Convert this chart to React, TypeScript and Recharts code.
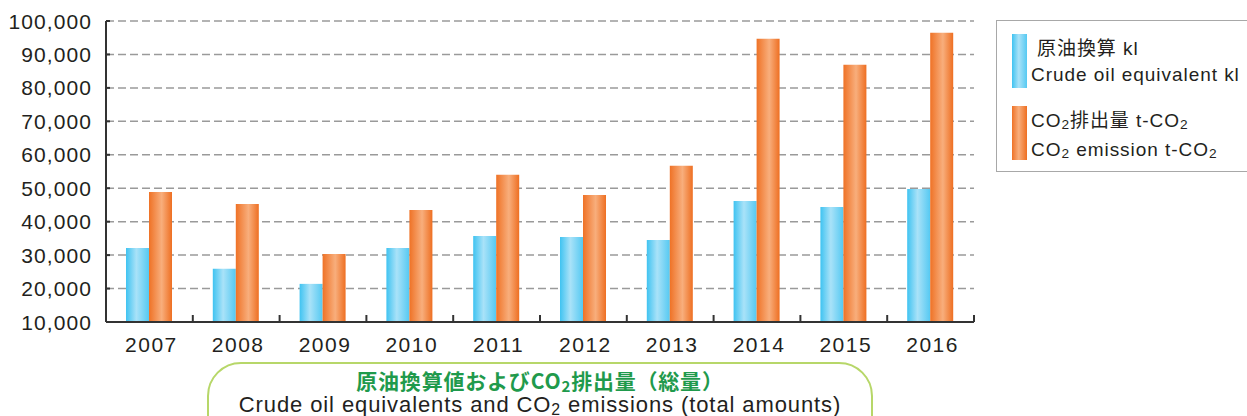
import { BarChart, Bar, XAxis, YAxis, CartesianGrid, Legend } from 'recharts'

const YEARS = ['2007', '2008', '2009', '2010', '2011', '2012', '2013', '2014', '2015', '2016']
const CRUDE_OIL_KL = [32100, 25900, 21400, 32100, 35700, 35400, 34500, 46200, 44400, 49800]
const CO2_T = [48900, 45300, 30300, 43500, 54000, 48000, 56700, 94700, 86900, 96500]
const Y_TICKS = [10000, 20000, 30000, 40000, 50000, 60000, 70000, 80000, 90000, 100000]

const FONT = '"Liberation Sans", Arial, "Noto Sans CJK JP", sans-serif'
const INK = '#231f20'
const AXIS = '#333'
const GRID = '#9a9a9a'
const BLUE = ['#3fc3f1', '#a9e2f8', '#55c9f2']
const ORANGE = ['#ef7226', '#f8ae7c', '#ee6f22']
const TITLE_GREEN = '#1f9a4c'
const PILL_GREEN = '#b7d769'

const W = 1247
const H = 416
const PLOT_LEFT = 106
const PLOT_RIGHT = 974
const PLOT_TOP = 21
const PLOT_BOTTOM = 322
const X_AXIS_H = 40

const data = YEARS.map((year, i) => ({ year, crude: CRUDE_OIL_KL[i], co2: CO2_T[i] }))

const Sub = ({ children }: { children: string }) => (
  <span style={{ fontSize: '0.72em', verticalAlign: '-0.18em' }}>{children}</span>
)

function YTick({ x, y, payload }: any) {
  return (
    <g>
      <line x1={x + 14} x2={x + 18} y1={y} y2={y} stroke={AXIS} strokeWidth={2} />
      <text
        x={x}
        y={y}
        textAnchor="end"
        dominantBaseline="central"
        fill={INK}
        fontSize={21}
        fontFamily={FONT}
        letterSpacing={1.1}
      >
        {payload.value.toLocaleString('en-US')}
      </text>
    </g>
  )
}

function YearTick({ x, y, payload, index }: any) {
  const half = payload?.offset ?? (PLOT_RIGHT - PLOT_LEFT) / YEARS.length / 2
  return (
    <g>
      {index > 0 && (
        <line x1={x - half} x2={x - half} y1={y - 7} y2={y} stroke={AXIS} strokeWidth={2} />
      )}
      {index === YEARS.length - 1 && (
        <line x1={x + half} x2={x + half} y1={y - 7} y2={y} stroke={AXIS} strokeWidth={2} />
      )}
      <text
        x={x + 2}
        y={y + 22}
        textAnchor="middle"
        dominantBaseline="central"
        fill={INK}
        fontSize={21}
        fontFamily={FONT}
        letterSpacing={1.5}
      >
        {payload.value}
      </text>
    </g>
  )
}

const swatch = (c: string[]) => ({
  width: 15,
  height: 54,
  background: `linear-gradient(to right, ${c[0]}, ${c[1]} 45%, ${c[2]})`,
  flex: 'none' as const,
})

function LegendBox() {
  const text = { fontSize: 19, lineHeight: '26px', color: INK, letterSpacing: 0.95, whiteSpace: 'nowrap' as const }
  return (
    <div
      style={{
        boxSizing: 'border-box',
        width: 262,
        height: 152,
        border: '1.5px solid #a8a8a8',
        background: '#fff',
        fontFamily: FONT,
        padding: '13px 0 0 15px',
      }}
    >
      <div style={{ display: 'flex', gap: 4 }}>
        <div style={swatch(BLUE)} />
        <div style={{ ...text, paddingTop: 2 }}>
          <div style={{ paddingLeft: 6 }}>原油換算 kl</div>
          <div>Crude oil equivalent kl</div>
        </div>
      </div>
      <div style={{ display: 'flex', gap: 4, marginTop: 18 }}>
        <div style={swatch(ORANGE)} />
        <div style={{ ...text, lineHeight: '25px', paddingTop: 2 }}>
          <div>
            CO<Sub>2</Sub>排出量 t-CO<Sub>2</Sub>
          </div>
          <div>
            CO<Sub>2</Sub> emission t-CO<Sub>2</Sub>
          </div>
        </div>
      </div>
    </div>
  )
}

export default function App() {
  return (
    <div
      style={{
        position: 'absolute',
        top: 0,
        left: 0,
        width: W,
        height: H,
        overflow: 'hidden',
        background: '#fff',
      }}
    >
      <BarChart
        width={W}
        height={H}
        data={data}
        barGap={0}
        barSize={23}
        margin={{ top: PLOT_TOP, right: W - PLOT_RIGHT, left: 10, bottom: H - PLOT_BOTTOM - X_AXIS_H }}
      >
        <defs>
          <linearGradient id="blueGrad" x1="0" x2="1" y1="0" y2="0">
            <stop offset="0%" stopColor={BLUE[0]} />
            <stop offset="45%" stopColor={BLUE[1]} />
            <stop offset="100%" stopColor={BLUE[2]} />
          </linearGradient>
          <linearGradient id="orangeGrad" x1="0" x2="1" y1="0" y2="0">
            <stop offset="0%" stopColor={ORANGE[0]} />
            <stop offset="55%" stopColor={ORANGE[1]} />
            <stop offset="100%" stopColor={ORANGE[2]} />
          </linearGradient>
        </defs>
        <CartesianGrid vertical={false} stroke={GRID} strokeWidth={1.5} strokeDasharray="8 4" />
        <XAxis
          dataKey="year"
          height={X_AXIS_H}
          axisLine={{ stroke: AXIS, strokeWidth: 2 }}
          tickLine={false}
          tickSize={0}
          tickMargin={0}
          interval={0}
          tick={<YearTick />}
        />
        <YAxis
          width={PLOT_LEFT - 10}
          domain={[10000, 100000]}
          ticks={Y_TICKS}
          allowDataOverflow
          axisLine={{ stroke: AXIS, strokeWidth: 2 }}
          tickLine={false}
          tickSize={0}
          tickMargin={14}
          interval={0}
          tick={<YTick />}
        />
        <Legend
          layout="horizontal"
          verticalAlign="middle"
          align="center"
          wrapperStyle={{ left: 996, top: 20, width: 262, height: 152 }}
          content={() => <LegendBox />}
        />
        <Bar dataKey="crude" name="原油換算 kl" fill="url(#blueGrad)" isAnimationActive={false} />
        <Bar dataKey="co2" name="CO2排出量 t-CO2" fill="url(#orangeGrad)" isAnimationActive={false} />
      </BarChart>
      <div
        style={{
          position: 'absolute',
          left: 207,
          top: 362,
          width: 666,
          height: 90,
          boxSizing: 'border-box',
          border: `2px solid ${PILL_GREEN}`,
          borderRadius: 34,
          textAlign: 'center',
          fontFamily: FONT,
          paddingTop: 5,
        }}
      >
        <div
          style={{
            color: TITLE_GREEN,
            fontWeight: 'bold',
            fontSize: 21,
            lineHeight: '22px',
            letterSpacing: 0.8,
            fontFamily: '"Noto Sans CJK JP", sans-serif',
          }}
        >
          原油換算値およびCO<Sub>2</Sub>排出量（総量）
        </div>
        <div style={{ color: INK, fontSize: 22, lineHeight: '18px', letterSpacing: 0.9, whiteSpace: 'nowrap' }}>
          Crude oil equivalents and CO<Sub>2</Sub> emissions (total amounts)
        </div>
      </div>
    </div>
  )
}
